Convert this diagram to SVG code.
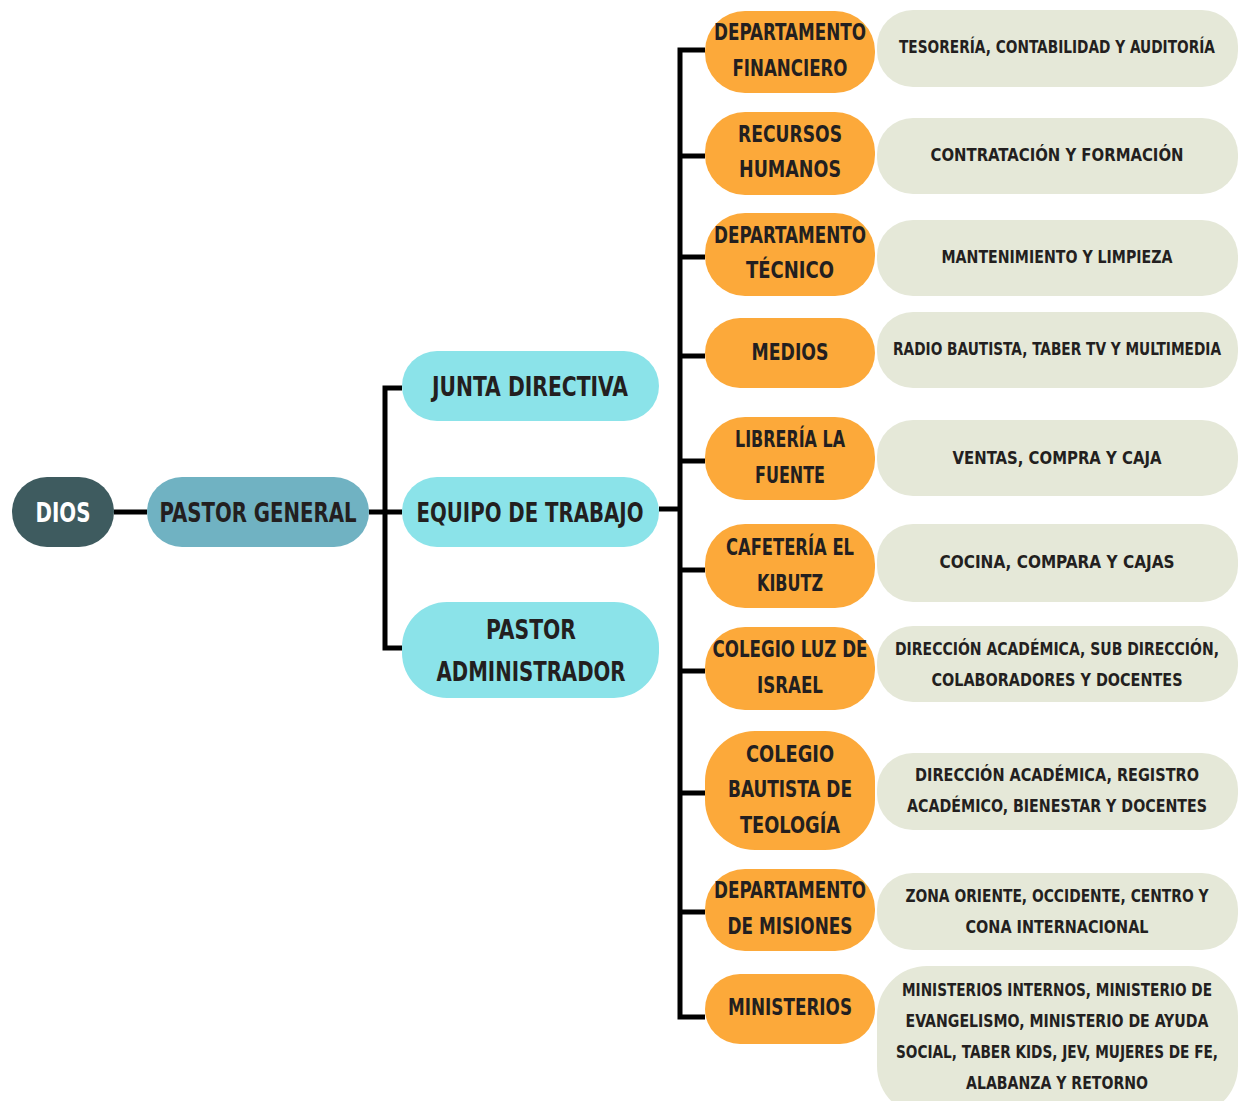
<svg xmlns="http://www.w3.org/2000/svg" width="1238" height="1101" viewBox="0 0 1238 1101">
<style>
text{font-family:"DejaVu Sans Condensed","DejaVu Sans","Liberation Sans",sans-serif;font-weight:bold;fill:#231f20;text-anchor:middle}
.dios{fill:#3e5b5f}
.pg{fill:#70b2c2}
.cy{fill:#8be3e9}
.or{fill:#fca93a}
.gr{fill:#e5e8d8}
.big{font-size:26px}
.mid{font-size:23px}
.sm{font-size:18px}
.w{fill:#ffffff}
.conn path{fill:none;stroke:#000;stroke-width:5}
</style>
<rect width="1238" height="1101" fill="#fff"/>
<g class="conn" id="connectors">
<path d="M114 512H147"/>
<path d="M369 512H402"/>
<path d="M402 388H385V648H402"/>
<path d="M659 509H680"/>
<path d="M705 50H680V1017H705"/>
<path d="M680 156H705"/>
<path d="M680 257H705"/>
<path d="M680 356H705"/>
<path d="M680 461H705"/>
<path d="M680 570H705"/>
<path d="M680 671H705"/>
<path d="M680 793H705"/>
<path d="M680 912H705"/>
</g>
<g id="n-dios"><rect class="dios" x="12" y="477" width="102" height="70" rx="35"/><text class="big w" x="63" y="522" textLength="55" lengthAdjust="spacingAndGlyphs">DIOS</text></g>
<g id="n-pastor-general"><rect class="pg" x="147" y="477" width="222" height="70" rx="35"/><text class="big" x="258" y="522" textLength="197" lengthAdjust="spacingAndGlyphs">PASTOR GENERAL</text></g>
<g id="n-junta"><rect class="cy" x="402" y="351" width="257" height="70" rx="35"/><text class="big" x="530" y="396" textLength="196" lengthAdjust="spacingAndGlyphs">JUNTA DIRECTIVA</text></g>
<g id="n-equipo"><rect class="cy" x="402" y="477" width="257" height="70" rx="35"/><text class="big" x="530" y="522" textLength="227" lengthAdjust="spacingAndGlyphs">EQUIPO DE TRABAJO</text></g>
<g id="n-pastor-admin"><rect class="cy" x="402" y="602" width="257" height="96" rx="45"/><text class="big" x="531" y="639" textLength="90" lengthAdjust="spacingAndGlyphs">PASTOR</text><text class="big" x="531" y="681" textLength="189" lengthAdjust="spacingAndGlyphs">ADMINISTRADOR</text></g>

<g id="n-financiero"><rect class="or" x="705" y="11" width="170" height="82" rx="40"/><text class="mid" x="790" y="40" textLength="152" lengthAdjust="spacingAndGlyphs">DEPARTAMENTO</text><text class="mid" x="790" y="76" textLength="115" lengthAdjust="spacingAndGlyphs">FINANCIERO</text></g>
<g id="n-rrhh"><rect class="or" x="705" y="112" width="170" height="83" rx="40"/><text class="mid" x="790" y="142" textLength="104" lengthAdjust="spacingAndGlyphs">RECURSOS</text><text class="mid" x="790" y="177" textLength="102" lengthAdjust="spacingAndGlyphs">HUMANOS</text></g>
<g id="n-tecnico"><rect class="or" x="705" y="213" width="170" height="83" rx="40"/><text class="mid" x="790" y="243" textLength="152" lengthAdjust="spacingAndGlyphs">DEPARTAMENTO</text><text class="mid" x="790" y="278" textLength="88" lengthAdjust="spacingAndGlyphs">TÉCNICO</text></g>
<g id="n-medios"><rect class="or" x="705" y="318" width="170" height="70" rx="35"/><text class="mid" x="790" y="360" textLength="77" lengthAdjust="spacingAndGlyphs">MEDIOS</text></g>
<g id="n-libreria"><rect class="or" x="705" y="417" width="170" height="83" rx="40"/><text class="mid" x="790" y="447" textLength="110" lengthAdjust="spacingAndGlyphs">LIBRERÍA LA</text><text class="mid" x="790" y="483" textLength="70" lengthAdjust="spacingAndGlyphs">FUENTE</text></g>
<g id="n-cafeteria"><rect class="or" x="705" y="524" width="170" height="84" rx="40"/><text class="mid" x="790" y="555" textLength="128" lengthAdjust="spacingAndGlyphs">CAFETERÍA EL</text><text class="mid" x="790" y="591" textLength="66" lengthAdjust="spacingAndGlyphs">KIBUTZ</text></g>
<g id="n-luz"><rect class="or" x="705" y="627" width="170" height="83" rx="40"/><text class="mid" x="790" y="657" textLength="155" lengthAdjust="spacingAndGlyphs">COLEGIO LUZ DE</text><text class="mid" x="790" y="693" textLength="66" lengthAdjust="spacingAndGlyphs">ISRAEL</text></g>
<g id="n-bautista"><rect class="or" x="705" y="731" width="170" height="119" rx="50"/><text class="mid" x="790" y="762" textLength="88" lengthAdjust="spacingAndGlyphs">COLEGIO</text><text class="mid" x="790" y="797" textLength="124" lengthAdjust="spacingAndGlyphs">BAUTISTA DE</text><text class="mid" x="790" y="833" textLength="100" lengthAdjust="spacingAndGlyphs">TEOLOGÍA</text></g>
<g id="n-misiones"><rect class="or" x="705" y="869" width="170" height="82" rx="40"/><text class="mid" x="790" y="898" textLength="152" lengthAdjust="spacingAndGlyphs">DEPARTAMENTO</text><text class="mid" x="790" y="934" textLength="125" lengthAdjust="spacingAndGlyphs">DE MISIONES</text></g>
<g id="n-ministerios"><rect class="or" x="705" y="974" width="170" height="70" rx="35"/><text class="mid" x="790" y="1015" textLength="124" lengthAdjust="spacingAndGlyphs">MINISTERIOS</text></g>

<g id="d-financiero"><rect class="gr" x="877" y="10" width="361" height="77" rx="36"/><text class="sm" x="1057" y="53" textLength="316" lengthAdjust="spacingAndGlyphs">TESORERÍA, CONTABILIDAD Y AUDITORÍA</text></g>
<g id="d-rrhh"><rect class="gr" x="877" y="118" width="361" height="76" rx="36"/><text class="sm" x="1057" y="161" textLength="253" lengthAdjust="spacingAndGlyphs">CONTRATACIÓN Y FORMACIÓN</text></g>
<g id="d-tecnico"><rect class="gr" x="877" y="220" width="361" height="76" rx="36"/><text class="sm" x="1057" y="263" textLength="231" lengthAdjust="spacingAndGlyphs">MANTENIMIENTO Y LIMPIEZA</text></g>
<g id="d-medios"><rect class="gr" x="877" y="312" width="361" height="76" rx="36"/><text class="sm" x="1057" y="355" textLength="328" lengthAdjust="spacingAndGlyphs">RADIO BAUTISTA, TABER TV Y MULTIMEDIA</text></g>
<g id="d-libreria"><rect class="gr" x="877" y="420" width="361" height="76" rx="36"/><text class="sm" x="1057" y="464" textLength="209" lengthAdjust="spacingAndGlyphs">VENTAS, COMPRA Y CAJA</text></g>
<g id="d-cafeteria"><rect class="gr" x="877" y="524" width="361" height="78" rx="36"/><text class="sm" x="1057" y="568" textLength="235" lengthAdjust="spacingAndGlyphs">COCINA, COMPARA Y CAJAS</text></g>
<g id="d-luz"><rect class="gr" x="877" y="626" width="361" height="76" rx="36"/><text class="sm" x="1057" y="655" textLength="324" lengthAdjust="spacingAndGlyphs">DIRECCIÓN ACADÉMICA, SUB DIRECCIÓN,</text><text class="sm" x="1057" y="686" textLength="251" lengthAdjust="spacingAndGlyphs">COLABORADORES Y DOCENTES</text></g>
<g id="d-bautista"><rect class="gr" x="877" y="753" width="361" height="77" rx="36"/><text class="sm" x="1057" y="781" textLength="284" lengthAdjust="spacingAndGlyphs">DIRECCIÓN ACADÉMICA, REGISTRO</text><text class="sm" x="1057" y="812" textLength="300" lengthAdjust="spacingAndGlyphs">ACADÉMICO, BIENESTAR Y DOCENTES</text></g>
<g id="d-misiones"><rect class="gr" x="877" y="873" width="361" height="77" rx="36"/><text class="sm" x="1057" y="902" textLength="303" lengthAdjust="spacingAndGlyphs">ZONA ORIENTE, OCCIDENTE, CENTRO Y</text><text class="sm" x="1057" y="933" textLength="183" lengthAdjust="spacingAndGlyphs">CONA INTERNACIONAL</text></g>
<g id="d-ministerios"><rect class="gr" x="877" y="966" width="361" height="150" rx="50"/><text class="sm" x="1057" y="996" textLength="310" lengthAdjust="spacingAndGlyphs">MINISTERIOS INTERNOS, MINISTERIO DE</text><text class="sm" x="1057" y="1027" textLength="303" lengthAdjust="spacingAndGlyphs">EVANGELISMO, MINISTERIO DE AYUDA</text><text class="sm" x="1057" y="1058" textLength="322" lengthAdjust="spacingAndGlyphs">SOCIAL, TABER KIDS, JEV, MUJERES DE FE,</text><text class="sm" x="1057" y="1089" textLength="182" lengthAdjust="spacingAndGlyphs">ALABANZA Y RETORNO</text></g>
</svg>
